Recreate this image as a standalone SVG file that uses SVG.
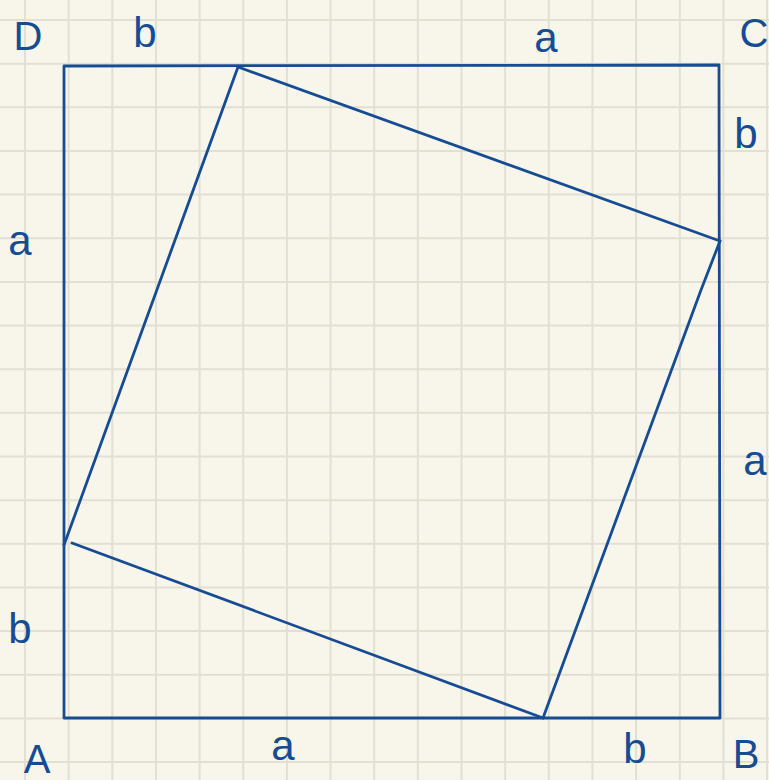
<svg xmlns="http://www.w3.org/2000/svg" width="769" height="780" viewBox="0 0 769 780">
<style>
.grid line{stroke:#e2dfd3;stroke-width:2}
.ink{fill:none;stroke:#164c93;stroke-width:2.8;stroke-linecap:round;stroke-linejoin:round}
.lbl{font-family:"Liberation Sans",Arial,sans-serif;fill:#164c93;text-anchor:middle}
.lo{font-size:42px}
.up{font-size:40px}
</style>
<rect width="769" height="780" fill="#f8f6ea"/>
<g class="grid" id="grid">
<line x1="25" y1="0" x2="25" y2="780"/><line x1="68.65" y1="0" x2="68.65" y2="780"/><line x1="112.3" y1="0" x2="112.3" y2="780"/><line x1="155.95" y1="0" x2="155.95" y2="780"/><line x1="199.6" y1="0" x2="199.6" y2="780"/><line x1="243.25" y1="0" x2="243.25" y2="780"/><line x1="286.9" y1="0" x2="286.9" y2="780"/><line x1="330.55" y1="0" x2="330.55" y2="780"/><line x1="374.2" y1="0" x2="374.2" y2="780"/><line x1="417.85" y1="0" x2="417.85" y2="780"/><line x1="461.5" y1="0" x2="461.5" y2="780"/><line x1="505.15" y1="0" x2="505.15" y2="780"/><line x1="548.8" y1="0" x2="548.8" y2="780"/><line x1="592.45" y1="0" x2="592.45" y2="780"/><line x1="636.1" y1="0" x2="636.1" y2="780"/><line x1="679.75" y1="0" x2="679.75" y2="780"/><line x1="723.4" y1="0" x2="723.4" y2="780"/><line x1="767.05" y1="0" x2="767.05" y2="780"/>
<line x1="0" y1="20" x2="769" y2="20"/><line x1="0" y1="63.65" x2="769" y2="63.65"/><line x1="0" y1="107.3" x2="769" y2="107.3"/><line x1="0" y1="150.95" x2="769" y2="150.95"/><line x1="0" y1="194.6" x2="769" y2="194.6"/><line x1="0" y1="238.25" x2="769" y2="238.25"/><line x1="0" y1="281.9" x2="769" y2="281.9"/><line x1="0" y1="325.55" x2="769" y2="325.55"/><line x1="0" y1="369.2" x2="769" y2="369.2"/><line x1="0" y1="412.85" x2="769" y2="412.85"/><line x1="0" y1="456.5" x2="769" y2="456.5"/><line x1="0" y1="500.15" x2="769" y2="500.15"/><line x1="0" y1="543.8" x2="769" y2="543.8"/><line x1="0" y1="587.45" x2="769" y2="587.45"/><line x1="0" y1="631.1" x2="769" y2="631.1"/><line x1="0" y1="674.75" x2="769" y2="674.75"/><line x1="0" y1="718.4" x2="769" y2="718.4"/><line x1="0" y1="762.05" x2="769" y2="762.05"/>
</g>
<g id="outer-square">
<path class="ink" d="M64,66 L719,65 L720,718 L64,718 Z"/>
</g>
<g id="inner-square">
<path class="ink" d="M238,67 L720,241"/>
<path class="ink" d="M720,241 L701,290 L543,718"/>
<path class="ink" d="M543,718 L72,543"/>
<path class="ink" d="M64,545 L238,67"/>
</g>
<g id="labels">
<text class="lbl up" x="28" y="50">D</text>
<text class="lbl lo" x="145" y="47">b</text>
<text class="lbl lo" x="546" y="52">a</text>
<text class="lbl up" x="754" y="47">C</text>
<text class="lbl lo" x="746" y="148">b</text>
<text class="lbl lo" x="20" y="255">a</text>
<text class="lbl lo" x="755" y="475">a</text>
<text class="lbl lo" x="20" y="643">b</text>
<text class="lbl up" x="37" y="773">A</text>
<text class="lbl lo" x="283" y="760">a</text>
<text class="lbl lo" x="635" y="763">b</text>
<text class="lbl up" x="746" y="768">B</text>
</g>
</svg>
